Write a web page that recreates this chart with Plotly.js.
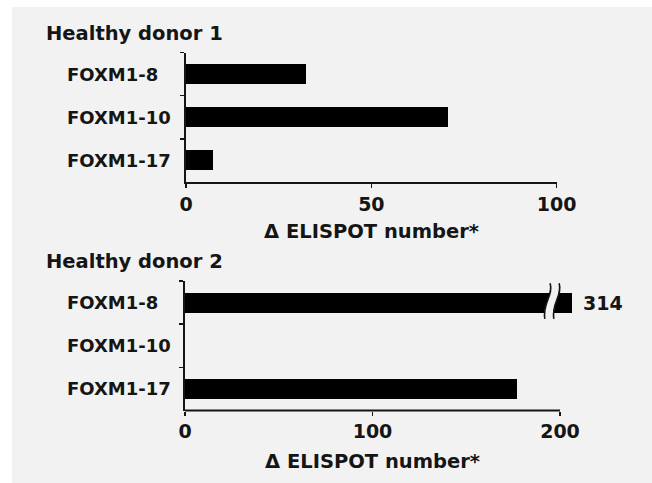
<!DOCTYPE html>
<html>
<head>
<meta charset="utf-8">
<script src="https://cdn.plot.ly/plotly-3.0.1.min.js"></script>
<style>html,body{margin:0;padding:0;background:#fff;}#chart{width:652px;height:483px;}</style>
</head>
<body>
<div id="chart"></div>
<script>
// ---- data ----
const categories = ['FOXM1-8', 'FOXM1-10', 'FOXM1-17'];
const donor1Values = [32.3, 70.6, 7.2];
const donor2Values = [314, 0, 177];
const donor1Ticks = [0, 50, 100];
const donor2Ticks = [0, 100, 200];
const panelTitles = ['Healthy donor 1', 'Healthy donor 2'];
const axisTitle = 'Δ ELISPOT number*';

// ---- axis break (style for the broken bar on panel 2) ----
const brk = { left: 193.6, right: 198.4, barEnd: 206.2, amp: 1.9 };

// ---- style ----
const W = 652, H = 483;
const px = p => p / W;
const py = p => 1 - p / H;
const FONT = 'DejaVu Sans';
const ink = '#151515';
const panelBg = '#f2f2f2';

const donor2Drawn = donor2Values.map(v => (v > brk.right ? brk.barEnd : v));

const traces = [
  { type: 'bar', orientation: 'h', x: donor1Values, y: categories, xaxis: 'x', yaxis: 'y',
    width: 0.46, marker: { color: '#000', line: { width: 0 } }, hoverinfo: 'x+y' },
  { type: 'bar', orientation: 'h', x: donor2Drawn, y: categories, xaxis: 'x2', yaxis: 'y2',
    width: 0.46, marker: { color: '#000', line: { width: 0 } },
    customdata: donor2Values, hovertemplate: '%{y}: %{customdata}<extra></extra>' }
];

function yAxis(domain) {
  return {
    type: 'category', domain: domain, range: [2.5, -0.5], autorange: false,
    showticklabels: false, ticks: 'outside', tickson: 'boundaries', ticklen: 4, tickwidth: 1.5,
    tickcolor: ink, showline: true, linecolor: ink, linewidth: 2, showgrid: false, zeroline: false,
    fixedrange: true
  };
}
function xAxis(domain, range, ticks, anchor, showline) {
  return {
    domain: domain, range: range, autorange: false, anchor: anchor,
    tickmode: 'array', tickvals: ticks, ticktext: ticks.map(String),
    ticks: 'outside', ticklen: 4, tickwidth: 1.5, tickcolor: ink,
    tickfont: { family: FONT, size: 19, weight: 700, color: ink },
    showline: showline, linecolor: ink, linewidth: 2, showgrid: false, zeroline: false,
    fixedrange: true
  };
}

// break marks (S-shaped) around the broken bar
const bc = categories.indexOf(categories[donor2Values.findIndex(v => v > brk.right)]);
const yTop = bc - 0.45, yBot = bc + 0.38, hgt = yBot - yTop;
function sCurve(x, reverse) {
  const a = brk.amp;
  const p0 = [x + 0.6 * a, yTop], c1 = [x + 1.6 * a, yTop + 0.35 * hgt],
        c2 = [x - 1.6 * a, yBot - 0.45 * hgt], p1 = [x - 0.9 * a, yBot];
  if (!reverse) return `${p0[0]},${p0[1]} C ${c1[0]},${c1[1]} ${c2[0]},${c2[1]} ${p1[0]},${p1[1]}`;
  return `${p1[0]},${p1[1]} C ${c2[0]},${c2[1]} ${c1[0]},${c1[1]} ${p0[0]},${p0[1]}`;
}
const gapPath = `M ${sCurve(brk.left, false)} L ${sCurve(brk.right, true)} Z`;

const shapes = [
  { type: 'rect', xref: 'paper', yref: 'paper', x0: px(12), x1: 1, y0: 0, y1: py(7),
    fillcolor: panelBg, line: { width: 0 }, layer: 'below' },
  // panel 2 axis line only up to 200 (the broken bar runs past it)
  { type: 'line', xref: 'x2', yref: 'y2 domain', x0: donor2Ticks[0], x1: donor2Ticks[donor2Ticks.length - 1],
    y0: 0, y1: 0, line: { color: ink, width: 2 } },
  { type: 'path', xref: 'x2', yref: 'y2', path: gapPath, fillcolor: panelBg, line: { width: 0 } },
  { type: 'path', xref: 'x2', yref: 'y2', path: `M ${sCurve(brk.left, false)}`, line: { color: ink, width: 1.6 } },
  { type: 'path', xref: 'x2', yref: 'y2', path: `M ${sCurve(brk.right, false)}`, line: { color: ink, width: 1.6 } }
];

const headFont = { family: FONT, size: 19.5, weight: 700, color: ink };
const labFont = { family: FONT, size: 18, weight: 700, color: ink };
const titleFont = { family: FONT, size: 19.5, weight: 700, color: ink };

const annotations = [];
annotations.push({ xref: 'paper', yref: 'paper', x: px(44), y: py(33), xanchor: 'left', yanchor: 'middle',
  text: panelTitles[0], showarrow: false, font: headFont });
annotations.push({ xref: 'paper', yref: 'paper', x: px(44), y: py(261), xanchor: 'left', yanchor: 'middle',
  text: panelTitles[1], showarrow: false, font: headFont });
categories.forEach(c => {
  annotations.push({ xref: 'paper', yref: 'y', x: px(65), y: c, xanchor: 'left', yanchor: 'middle',
    text: c, showarrow: false, font: labFont });
  annotations.push({ xref: 'paper', yref: 'y2', x: px(65), y: c, xanchor: 'left', yanchor: 'middle',
    text: c, showarrow: false, font: labFont });
});
annotations.push({ xref: 'paper', yref: 'paper', x: px(371.5), y: py(231.5), xanchor: 'center', yanchor: 'middle',
  text: axisTitle, showarrow: false, font: titleFont });
annotations.push({ xref: 'paper', yref: 'paper', x: px(372.5), y: py(461), xanchor: 'center', yanchor: 'middle',
  text: axisTitle, showarrow: false, font: titleFont });
donor2Values.forEach((v, i) => {
  if (v > brk.right) {
    annotations.push({ xref: 'x2', yref: 'y2', x: donor2Drawn[i], y: categories[i], xanchor: 'left', yanchor: 'middle',
      xshift: 9, text: String(v), showarrow: false, font: { family: FONT, size: 19, weight: 700, color: ink } });
  }
});

const layout = {
  width: W, height: H, margin: { l: 0, r: 0, t: 0, b: 0 },
  paper_bgcolor: '#ffffff', plot_bgcolor: 'rgba(0,0,0,0)', showlegend: false, bargap: 0,
  xaxis: xAxis([px(186), px(556.7)], [0, 100], donor1Ticks, 'y', true),
  yaxis: yAxis([py(182), py(52.5)]),
  xaxis2: xAxis([px(185), px(185 + 210 * 1.875)], [0, 210], donor2Ticks, 'y2', false),
  yaxis2: yAxis([py(410.5), py(281)]),
  shapes: shapes, annotations: annotations
};
layout.yaxis.anchor = 'x';
layout.yaxis2.anchor = 'x2';

Plotly.newPlot('chart', traces, layout, { staticPlot: true, displayModeBar: false });
</script>
</body>
</html>
